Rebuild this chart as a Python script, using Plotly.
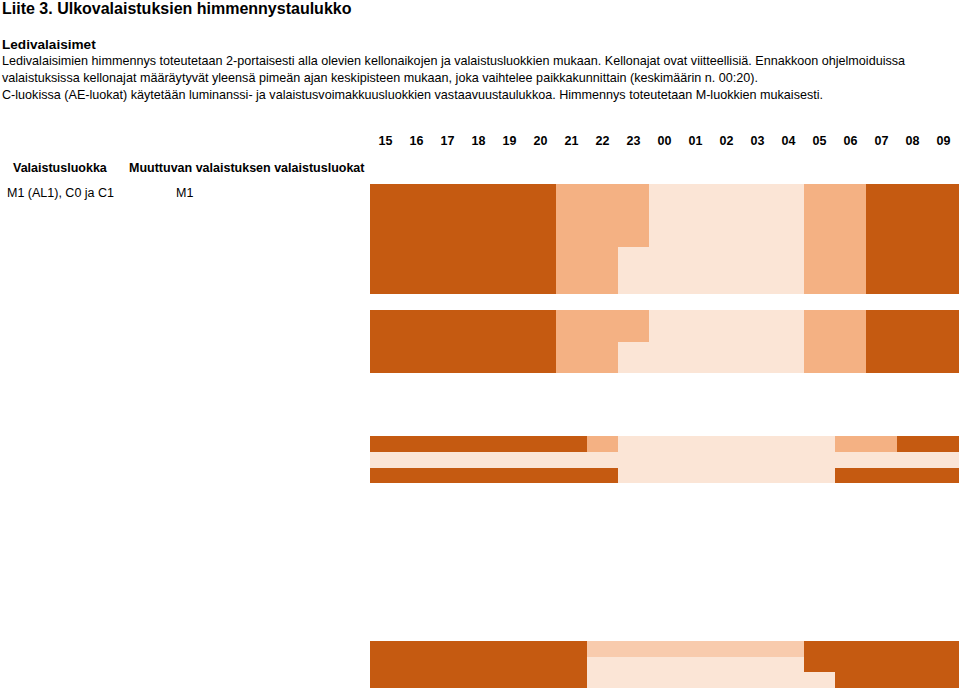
import plotly.graph_objects as go

# ---------------- data ----------------
hours = ["15", "16", "17", "18", "19", "20", "21", "22", "23", "00",
         "01", "02", "03", "04", "05", "06", "07", "08", "09"]

# dimming level per hour: 4 = full, 3 = step 1, 2 = step 1b, 1 = step 2
m1_upper = [4, 4, 4, 4, 4, 4, 3, 3, 3, 1, 1, 1, 1, 1, 3, 3, 4, 4, 4]
m1_lower = [4, 4, 4, 4, 4, 4, 3, 3, 1, 1, 1, 1, 1, 1, 3, 3, 4, 4, 4]
c_row_a = [4, 4, 4, 4, 4, 4, 4, 3, 1, 1, 1, 1, 1, 1, 1, 3, 3, 4, 4]
c_row_b = [1, 1, 1, 1, 1, 1, 1, 1, 1, 1, 1, 1, 1, 1, 1, 1, 1, 1, 1]
c_row_c = [4, 4, 4, 4, 4, 4, 4, 4, 1, 1, 1, 1, 1, 1, 1, 4, 4, 4, 4]
d_row_a = [4, 4, 4, 4, 4, 4, 4, 2, 2, 2, 2, 2, 2, 2, 4, 4, 4, 4, 4]
d_row_b = [4, 4, 4, 4, 4, 4, 4, 1, 1, 1, 1, 1, 1, 1, 4, 4, 4, 4, 4]
d_row_c = [4, 4, 4, 4, 4, 4, 4, 1, 1, 1, 1, 1, 1, 1, 1, 4, 4, 4, 4]

empty = [None] * len(hours)

rows = ([m1_upper] * 4 + [m1_lower] * 3 + [empty]
        + [m1_upper] * 2 + [m1_lower] * 2 + [empty] * 4
        + [c_row_a, c_row_b, c_row_c] + [empty] * 10
        + [d_row_a, d_row_b, d_row_c])

title_text = "Liite 3. Ulkovalaistuksien himmennystaulukko"
section_text = "Ledivalaisimet"
body_lines = [
    "Ledivalaisimien himmennys toteutetaan 2-portaisesti alla olevien kellonaikojen ja valaistusluokkien mukaan. Kellonajat ovat viitteellisiä. Ennakkoon ohjelmoiduissa",
    "valaistuksissa kellonajat määräytyvät yleensä pimeän ajan keskipisteen mukaan, joka vaihtelee paikkakunnittain (keskimäärin n. 00:20).",
    "C-luokissa (AE-luokat) käytetään luminanssi- ja valaistusvoimakkuusluokkien vastaavuustaulukkoa. Himmennys toteutetaan M-luokkien mukaisesti.",
]
col_header_1 = "Valaistusluokka"
col_header_2 = "Muuttuvan valaistuksen valaistusluokat"
row_label_1 = "M1 (AL1), C0 ja C1"
row_label_2 = "M1"

# ---------------- styling ----------------
W, H = 960, 689
ML, MR, MT, MB = 370, 1, 184, 0
FONT = "Liberation Sans"

c_light = "#FBE5D6"
c_lightmid = "#F8CBAD"
c_mid = "#F4B183"
c_dark = "#C55A11"
colorscale = [[0.0, c_light], [0.25, c_light], [0.25, c_lightmid], [0.5, c_lightmid],
              [0.5, c_mid], [0.75, c_mid], [0.75, c_dark], [1.0, c_dark]]

fig = go.Figure(go.Heatmap(
    z=rows,
    x=hours,
    y=list(range(len(rows))),
    zmin=0.5, zmax=4.5,
    colorscale=colorscale,
    showscale=False,
    xgap=0, ygap=0,
    hoverongaps=False,
))

pw = W - ML - MR
ph = H - MT - MB


def px(x):
    return (x - ML) / pw


def py(y):
    return (H - MB - y) / ph


ann = []


def add_text(text, x, y, size, bold=False, anchor="left"):
    ann.append(dict(
        text=f"<b>{text}</b>" if bold else text,
        x=px(x), y=py(y), xref="paper", yref="paper",
        xanchor=anchor, yanchor="middle", showarrow=False,
        font=dict(family=FONT, size=size, color="black"),
    ))


add_text(title_text, 0, 9, 16, bold=True)
add_text(section_text, 0, 44, 13.6, bold=True)
for i, line in enumerate(body_lines):
    add_text(line, 0, 61 + i * 17, 12.6)
add_text(col_header_1, 60, 168, 12.5, bold=True, anchor="center")
add_text(col_header_2, 247, 168, 12.5, bold=True, anchor="center")
add_text(row_label_1, 60, 193, 12.5, anchor="center")
add_text(row_label_2, 184, 193, 12.5, anchor="center")

fig.update_layout(
    width=W, height=H,
    margin=dict(l=ML, r=MR, t=MT, b=MB, pad=0),
    paper_bgcolor="white", plot_bgcolor="white",
    annotations=ann,
    showlegend=False,
)
fig.update_xaxes(
    type="category", side="top", showgrid=False, zeroline=False, showline=False,
    ticks="", ticklabelstandoff=36,
    tickprefix="<b>", ticksuffix="</b>",
    tickfont=dict(family=FONT, size=12.5, color="black"),
    range=[-0.5, len(hours) - 0.5],
)
fig.update_yaxes(
    showgrid=False, zeroline=False, showline=False, showticklabels=False, ticks="",
    range=[len(rows) - 0.5 + 0.06, -0.5],
)

fig.write_html("out.html",
               config={"displayModeBar": False},
               post_script="document.body.style.margin='0';document.body.style.overflow='hidden';")
